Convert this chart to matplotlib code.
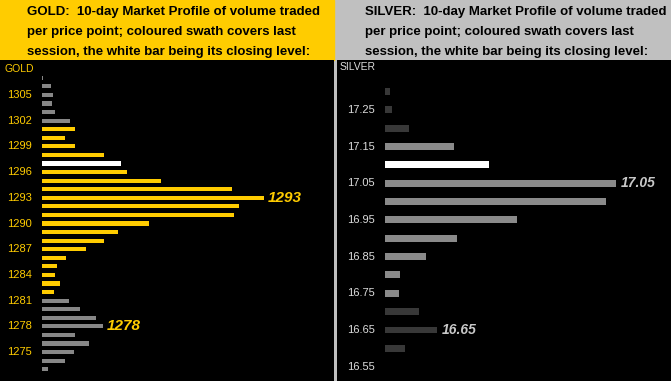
import matplotlib
matplotlib.use("Agg")
import matplotlib.pyplot as plt
from matplotlib.patches import Rectangle

plt.rcParams["font.family"] = ["Liberation Sans", "DejaVu Sans"]

# ---- data ----
gold_prices = [1307, 1306, 1305, 1304, 1303, 1302, 1301, 1300, 1299, 1298,
               1297, 1296, 1295, 1294, 1293, 1292, 1291, 1290, 1289, 1288,
               1287, 1286, 1285, 1284, 1283, 1282, 1281, 1280, 1279, 1278,
               1277, 1276, 1275, 1274, 1273]
gold_volume = [1.3, 9, 11, 10, 13, 28, 33, 23, 33, 62,
               79, 85, 119, 190, 222, 197, 192, 107, 76, 62,
               44, 24, 15, 13, 18, 12, 27, 38, 54, 61,
               33, 47, 32, 23, 6]
gold_session = (1282, 1301)   # low, high of last session
gold_close = 1297
gold_ticks = [1305, 1302, 1299, 1296, 1293, 1290, 1287, 1284, 1281, 1278, 1275]
gold_callouts = [1293, 1278]

silver_prices = [17.30, 17.25, 17.20, 17.15, 17.10, 17.05, 17.00, 16.95,
                 16.90, 16.85, 16.80, 16.75, 16.70, 16.65, 16.60]
silver_volume = [5, 7, 24, 69, 104, 231, 221, 132, 72, 41, 15, 14, 34, 52, 20]
silver_session = (16.75, 17.15)
silver_close = 17.10
silver_ticks = [17.25, 17.15, 17.05, 16.95, 16.85, 16.75, 16.65, 16.55]
silver_callouts = [17.05, 16.65]

gold_title = ["GOLD:  10-day Market Profile of volume traded",
              "per price point; coloured swath covers last",
              "session, the white bar being its closing level:"]
silver_title = ["SILVER:  10-day Market Profile of volume traded",
                "per price point; coloured swath covers last",
                "session, the white bar being its closing level:"]

W, H = 671, 381
fig = plt.figure(figsize=(W / 100, H / 100), dpi=100, facecolor="#c0c0c0")


def px_axes(x0, y0, x1, y1):
    return fig.add_axes([x0 / W, 1 - y1 / H, (x1 - x0) / W, (y1 - y0) / H])


def clean(ax):
    ax.set_facecolor("black")
    ax.set_xticks([])
    ax.set_yticks([])
    for s in ax.spines.values():
        s.set_visible(False)


# headers
fig.add_artist(Rectangle((0, 1 - 60 / H), 334 / W, 60 / H,
                         transform=fig.transFigure, color="#ffcc00", zorder=0))
for i, line in enumerate(gold_title):
    fig.text(27 / W, 1 - (15 + 20 * i) / H, line, ha="left", va="baseline",
             fontsize=9.5, fontweight="bold", color="black")
for i, line in enumerate(silver_title):
    fig.text(365 / W, 1 - (15 + 20 * i) / H, line, ha="left", va="baseline",
             fontsize=9.5, fontweight="bold", color="black")

# ---- gold panel ----
ax = px_axes(0, 60, 334, 381)
clean(ax)
gold_col = []
for p in gold_prices:
    if p == gold_close:
        gold_col.append("white")
    elif gold_session[0] <= p <= gold_session[1]:
        gold_col.append("#ffcc00")
    else:
        gold_col.append("#878787")
ax.barh(gold_prices, gold_volume, height=0.48, left=0, color=gold_col)
ax.set_xlim(-42, 292)
ax.set_ylim(1271.63, 1309.08)
for t in gold_ticks:
    ax.text(-10, t, str(t), ha="right", va="center", color="#ffcc00", fontsize=8)
ax.text(-38, 1308.0, "GOLD", ha="left", va="center", color="#ffcc00", fontsize=7.5)
for p in gold_callouts:
    v = gold_volume[gold_prices.index(p)]
    ax.text(v + 4, p, str(p), ha="left", va="center", color="#ffcc00",
            fontsize=11, fontweight="bold", fontstyle="italic")

# ---- silver panel ----
ax = px_axes(337, 60, 671, 381)
clean(ax)
silver_col = []
for p in silver_prices:
    if abs(p - silver_close) < 1e-6:
        silver_col.append("white")
    elif silver_session[0] - 1e-6 <= p <= silver_session[1] + 1e-6:
        silver_col.append("#8a8a8a")
    else:
        silver_col.append("#383838")
ax.barh(silver_prices, silver_volume, height=0.019, left=0, color=silver_col)
ax.set_xlim(-48, 286)
ax.set_ylim(16.511, 17.386)
for t in silver_ticks:
    ax.text(-10, t, f"{t:.2f}", ha="right", va="center", color="#dcdcdc", fontsize=8)
ax.text(-45, 17.366, "SILVER", ha="left", va="center", color="#dcdcdc", fontsize=7.5)
for p in silver_callouts:
    v = silver_volume[silver_prices.index(p)]
    ax.text(v + 5, p, f"{p:.2f}", ha="left", va="center", color="#c8c8c8",
            fontsize=10, fontweight="bold", fontstyle="italic")

fig.savefig("out.png", dpi=100, facecolor=fig.get_facecolor())
